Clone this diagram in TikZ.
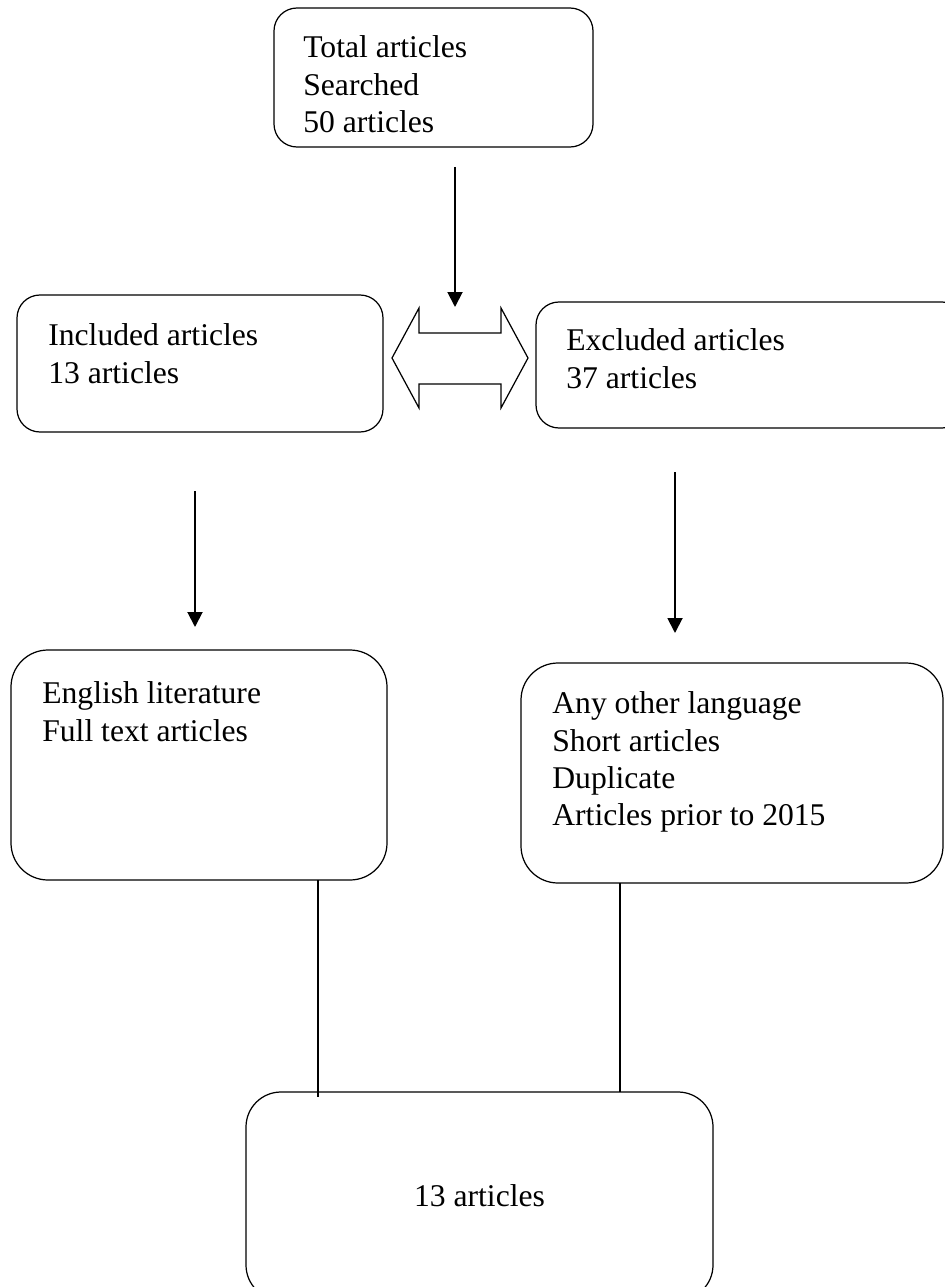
\documentclass[tikz,border=0pt]{standalone}
\usepackage{fontspec}
\setmainfont{Liberation Serif}
\usetikzlibrary{arrows.meta}
\newcommand\pxu{0.02cm}

\begin{document}
\begin{tikzpicture}[
  x=0.02cm, y=-0.02cm,
  box/.style={rectangle, draw, line width=0.7pt, inner sep=0pt},
  txt/.style={anchor=north west, align=left, inner sep=0pt, font=\fontsize{18}{21.3}\selectfont},
  arr/.style={-{Triangle[length=0.3cm, width=0.3cm]}, line width=1.1pt},
  link/.style={line width=0.7pt}
]
\useasboundingbox (0,0) rectangle (945,1287);

% boxes
\node[box, minimum width=319*\pxu, minimum height=139*\pxu, rounded corners=0.46cm] (total) at (433.5,77.5) {};
\node[box, minimum width=366*\pxu, minimum height=137*\pxu, rounded corners=0.46cm] (incl) at (200,363.5) {};
\node[box, minimum width=429*\pxu, minimum height=126*\pxu, rounded corners=0.46cm] (excl) at (750.5,365) {};
\node[box, minimum width=376*\pxu, minimum height=230*\pxu, rounded corners=0.74cm] (english) at (199,765) {};
\node[box, minimum width=422*\pxu, minimum height=220*\pxu, rounded corners=0.74cm] (other) at (732,773) {};
\node[box, minimum width=467*\pxu, minimum height=208*\pxu, rounded corners=0.7cm,
      font=\fontsize{18}{21.3}\selectfont] (final) at (479.5,1196) {13 articles};

% texts (top left of first line)
\node[txt] (totaltxt) at (303,35.3) {Total articles\\Searched\\50 articles};
\node[txt] (incltxt) at (48,323.3) {Included articles\\13 articles};
\node[txt] (excltxt) at (566,328.3) {Excluded articles\\37 articles};
\node[txt] (englishtxt) at (42,681.3) {English literature\\Full text articles};
\node[txt] (othertxt) at (552,691.3) {Any other language\\Short articles\\Duplicate\\Articles prior to 2015};

% double arrow between included and excluded
\draw[line width=0.7pt] (392,358) -- (419,308) -- (419,333) -- (501,333) -- (501,308)
  -- (528,358) -- (501,408) -- (501,384) -- (419,384) -- (419,408) -- cycle;

% arrow ends
\coordinate (a1s) at (455,167);
\coordinate (a1e) at (455,307);
\coordinate (a2s) at (195,491);
\coordinate (a2e) at (195,627);
\coordinate (a3s) at (675,472);
\coordinate (a3e) at (675,633);
\coordinate (l1s) at (318,880);
\coordinate (l1e) at (318,1097);
\coordinate (l2s) at (620,883);
\coordinate (l2e) at (620,1092);

\draw[arr] (a1s) -- (a1e);
\draw[arr] (a2s) -- (a2e);
\draw[arr] (a3s) -- (a3e);
\draw[link] (l1s) -- (l1e);
\draw[link] (l2s) -- (l2e);
\end{tikzpicture}
\end{document}
